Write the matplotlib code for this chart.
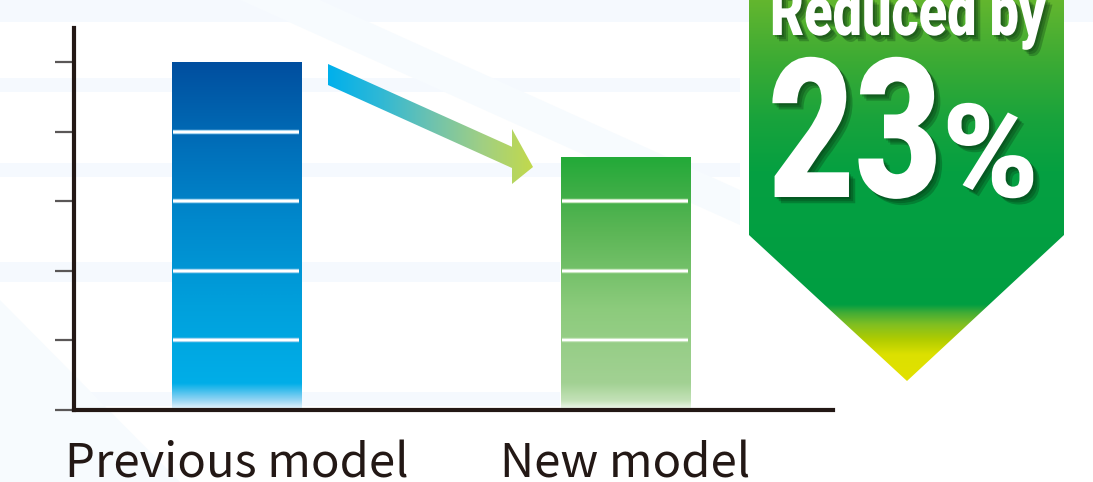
import numpy as np
import matplotlib
matplotlib.use("Agg")
import matplotlib.pyplot as plt
import matplotlib.patheffects as pe
from matplotlib.colors import LinearSegmentedColormap
from matplotlib.patches import Polygon
from matplotlib.transforms import Affine2D
from matplotlib import font_manager

# Data
models = ["Previous model", "New model"]
values = [5.0, 3.64]
tick_levels = [0, 1, 2, 3, 4, 5]
badge_lines = ["Reduced by", "23", "%"]

W, H = 1093, 482
fig = plt.figure(figsize=(W / 100, H / 100), dpi=100)

available = {f.name for f in font_manager.fontManager.ttflist}
label_font = "Noto Sans CJK JP" if "Noto Sans CJK JP" in available else "Noto Sans"
heavy_font = "Roboto" if "Roboto" in available else "DejaVu Sans"


class Stretch(pe.AbstractPathEffect):
    # makes glyphs taller about the baseline (no condensed face installed),
    # then runs the inner effects
    def __init__(self, sy, effects):
        super().__init__()
        self.sy = sy
        self.effects = effects

    def draw_path(self, renderer, gc, tpath, affine, rgbFace=None):
        aff = Affine2D().scale(1, self.sy) + affine
        for e in self.effects:
            e.draw_path(renderer, gc, tpath, aff, rgbFace)


def gradient_fill(ax, patch, stops, extent, vertical=True, origin="upper"):
    # paint a colour ramp inside a patch
    cmap = LinearSegmentedColormap.from_list("g", stops)
    ramp = np.linspace(0, 1, 256)
    img = ramp[:, None] if vertical else ramp[None, :]
    im = ax.imshow(img, cmap=cmap, extent=extent, aspect="auto", origin=origin,
                   interpolation="bicubic", zorder=patch.get_zorder())
    im.set_clip_path(patch)
    return im


# background with faint stripes
bg = fig.add_axes([0, 0, 1, 1], zorder=0)
bg.set_xlim(0, W)
bg.set_ylim(H, 0)
bg.axis("off")
stripe = "#f5f9fe"
for y0, y1, x0, x1 in [(0, 22, 0, 1093), (78, 92, 0, 740), (163, 177, 0, 740),
                       (262, 282, 0, 560), (392, 406, 0, 560)]:
    bg.add_patch(Polygon([(x0, y0), (x1, y0), (x1, y1), (x0, y1)],
                         closed=True, fc=stripe, ec="none"))
bg.add_patch(Polygon([(240, 0), (320, 0), (740, 190), (740, 225)],
                     closed=True, fc="#f7fbfe", ec="none"))
bg.add_patch(Polygon([(0, 300), (0, 482), (180, 482)],
                     closed=True, fc="#f7fbfe", ec="none"))

# main chart
left, right, top, bottom = 74, 833, 28, 410
ax = fig.add_axes([left / W, (H - bottom) / H, (right - left) / W, (bottom - top) / H],
                  zorder=1)
ax.patch.set_alpha(0)
x = np.arange(len(models))
ax.set_xlim(-0.418, 1.535)
ax.set_ylim(0, 5.49)

bar_width = 0.332
bars = ax.bar(x, values, width=bar_width, color="none", edgecolor="none", zorder=2)

blue_stops = [(0.0, "#eef7fd"), (0.025, "#9ad6f4"), (0.075, "#00aee8"),
              (0.3, "#00a0dc"), (0.55, "#0088cc"), (0.75, "#0070ba"),
              (0.9, "#005ca9"), (1.0, "#004e9f")]
green_stops = [(0.0, "#f4faf2"), (0.035, "#c4e2b8"), (0.105, "#a2d193"),
               (0.4, "#8ccb7c"), (0.7, "#5cb656"), (0.88, "#3aad44"),
               (1.0, "#22aa38")]
halos = ["#9fd3f0", "#c2e3b8"]
for bar, v, stops, halo in zip(bars, values, [blue_stops, green_stops], halos):
    x0 = bar.get_x()
    x1 = x0 + bar.get_width()
    gradient_fill(ax, bar, stops, (x0, x1, 0, v), origin="lower")
    levels = [t for t in tick_levels if 0 < t < v]
    ax.hlines(levels, x0 + 0.004, x1 - 0.004, colors="white", lw=1.6, zorder=3,
              path_effects=[pe.Stroke(linewidth=3.2, foreground=halo), pe.Normal()])

for side in ["top", "right"]:
    ax.spines[side].set_visible(False)
for side in ["left", "bottom"]:
    ax.spines[side].set_color("#231815")
    ax.spines[side].set_linewidth(3)
ax.set_yticks(tick_levels)
ax.set_yticklabels([])
ax.tick_params(axis="y", direction="out", length=14, width=1.6, color="#5a5757")
ax.set_xticks([])

for xi, name in zip(x, models):
    ax.text(xi, -0.178, name, transform=ax.get_xaxis_transform(), ha="center",
            va="baseline", fontsize=34, color="#231815", family=label_font)

# arrow and badge drawn in pixel space
ov = fig.add_axes([0, 0, 1, 1], zorder=2)
ov.set_xlim(0, W)
ov.set_ylim(H, 0)
ov.axis("off")

arrow = Polygon([(328, 64), (512, 146.8), (512, 129), (533, 167), (512, 184),
                 (512, 168), (328, 85)], closed=True, fc="none", ec="none")
ov.add_patch(arrow)
gradient_fill(ov, arrow, ["#00b0ec", "#2eb8d6", "#6cc2b0", "#a0cf84", "#c2d94c"],
              (328, 533, 185, 64), vertical=False)

badge = Polygon([(749, -5), (1064, -5), (1064, 235), (907, 381), (749, 235)],
                closed=True, fc="none", ec="none")
ov.add_patch(badge)
span = 386.0
badge_stops = [(0.0, "#66b72e"), (65 / span, "#3cab34"), (125 / span, "#18a33c"),
               (175 / span, "#05a041"), (310 / span, "#009e42"),
               (318 / span, "#40ac36"), (330 / span, "#80bf22"),
               (345 / span, "#b0cc00"), (360 / span, "#dce000"), (1.0, "#e2e100")]
# extent flipped so the ramp starts at the top of the badge
gradient_fill(ov, badge, badge_stops, (749, 1064, 381, -5))

# white lettering: (text, left edge, right edge, baseline, size for the height)
badge_text = [(badge_lines[0], 770, 1046, 35, 50),
              (badge_lines[1], 768, 942, 197, 140),
              (badge_lines[2], 942, 1056, 197, 94)]
texts = []
for s, xl, xr, yb, size in badge_text:
    t = ov.text(xl, yb, s, ha="left", va="baseline", fontsize=size,
                fontweight="black", color="white", family=heavy_font)
    texts.append(t)

# shrink each line to its width, then stretch it back up to the wanted height
fig.canvas.draw()
renderer = fig.canvas.get_renderer()
for t, (s, xl, xr, yb, size) in zip(texts, badge_text):
    width = t.get_window_extent(renderer).width
    fit = min(1.0, (xr - xl) / width)
    t.set_fontsize(size * fit)
    shadow = [pe.SimplePatchShadow(offset=(o, -o), shadow_rgbFace="#063010", alpha=0.28)
              for o in (1.5, 3, 4.5)] + [pe.Normal()]
    t.set_path_effects([Stretch(1 / fit, shadow)])

fig.savefig("out.png", dpi=100, facecolor="white")
